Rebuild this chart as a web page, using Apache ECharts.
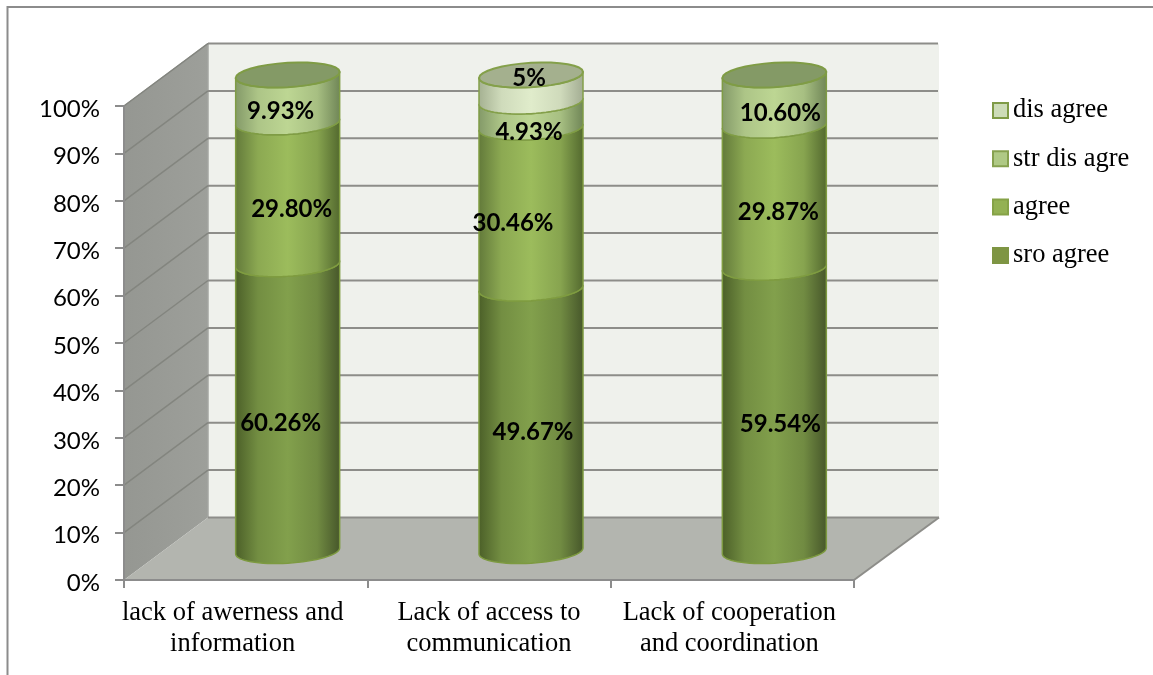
<!DOCTYPE html>
<html><head><meta charset="utf-8">
<style>html,body{margin:0;padding:0;background:#fff}#c{width:1153px;height:675px}</style>
<script src="https://cdn.jsdelivr.net/npm/echarts@6/dist/echarts.min.js"></script>
</head><body><div id="c"></div>
<script>
const categories = ['lack of awerness and\ninformation', 'Lack of access to\ncommunication', 'Lack of cooperation\nand coordination'];
const seriesNames = ['sro agree', 'agree', 'str dis agre', 'dis agree'];
const sroAgree = [60.26, 49.67, 59.54];
const agree = [29.80, 30.46, 29.87];
const strDisAgre = [9.93, 4.93, 10.60];
const disAgree = [0, 5, 0];
const seriesValues = [sroAgree, agree, strDisAgre, disAgree];
const valueLabels = [
  ['60.26%', '49.67%', '59.54%'],
  ['29.80%', '30.46%', '29.87%'],
  ['9.93%', '4.93%', '10.60%'],
  ['', '5%', '']
];
const yTicks = [0, 10, 20, 30, 40, 50, 60, 70, 80, 90, 100];

// Presentation
const DEPTH_X = 84, DEPTH_Y = -62.5;
const RX = 52, RY = 12.2, TILT = -0.058;
const shades = [
  {l:'#4b5f28', m:'#82a04c', r:'#46562a', edge:'#7d9a40', legend:'#7e9543', legendEdge:'#7e9543'},
  {l:'#62793a', m:'#9cbc5c', r:'#52682e', edge:'#7f9c40', legend:'#93b153', legendEdge:'#85a247'},
  {l:'#839968', m:'#bdd693', r:'#6f8556', edge:'#7f9c45', legend:'#afc985', legendEdge:'#86a14f'},
  {l:'#a4b091', m:'#e0eccb', r:'#a2ac92', edge:'#84a04a', legend:'#cddcb8', legendEdge:'#7f9b47'}
];
const capColors = {2:'#849a66', 3:'#a4b08e'};
// label shifts [dx, dy] relative to the middle of each cylinder segment
const labelShift = [
  [[-7, 16], [2, 13], [6, 15]],
  [[4, 16], [-18, 15], [4, 16]],
  [[-7, 13], [-2, 18], [6, 13]],
  [[0, 0], [-2, -10], [0, 0]]
];
const categoryLabelPadding = [[0, 26, 0, 0], [0, 0, 0, 0], [0, 6, 0, 0]];

const totals = categories.map((_, c) => seriesValues.reduce((s, v) => s + v[c], 0));
const lowerShare = (si, c) => { let s = 0; for (let i = 0; i < si; i++) s += seriesValues[i][c]; return s / totals[c] * 100; };

function arc(cx, cy, from, to) {
  const pts = [];
  for (let i = 0; i <= 32; i++) {
    const t = from + (to - from) * i / 32;
    const dx = RX * Math.cos(t);
    pts.push([cx + dx, cy + RY * Math.sin(t) + TILT * dx]);
  }
  return pts;
}
const cylCoord = (api, c, share) => {
  const p = api.coord([c, share]);
  return [p[0] + DEPTH_X / 2, p[1] - 29 - 2 * share / 100];
};

function renderSegment(si) {
  return function (params, api) {
    const c = api.value(0), a = api.value(1), b = api.value(2), label = valueLabels[si][c];
    if (b <= a) return {type: 'group', children: []};
    const p0 = cylCoord(api, c, a), p1 = cylCoord(api, c, b);
    const front0 = arc(p0[0], p0[1], Math.PI, 0);
    const front1 = arc(p1[0], p1[1], 0, Math.PI);
    const s = shades[si];
    const lerp = echarts.color.lerp;
    const grad = {type: 'linear', x: 0, y: 0, x2: 1, y2: 0, colorStops: [
      {offset: 0, color: s.l},
      {offset: 0.22, color: lerp(0.72, [s.l, s.m])},
      {offset: 0.5, color: s.m},
      {offset: 0.78, color: lerp(0.72, [s.r, s.m])},
      {offset: 1, color: s.r}]};
    const kids = [{type: 'polygon', shape: {points: front0.concat(front1)},
      style: {fill: grad, stroke: s.edge, lineWidth: 1.5, lineJoin: 'round'}}];
    if (b >= 99.99) {
      kids.push({type: 'polygon', shape: {points: arc(p1[0], p1[1], 0, Math.PI * 2)},
        style: {fill: capColors[si], stroke: s.edge, lineWidth: 2, lineJoin: 'round'}, z2: 2});
    }
    const shift = labelShift[si][c];
    kids.push({type: 'text', z2: 100, x: (p0[0] + p1[0]) / 2 + shift[0], y: (p0[1] + p1[1]) / 2 + shift[1],
      style: {text: label, fill: '#000', font: 'bold 24px Lato', align: 'center', verticalAlign: 'middle'}});
    return {type: 'group', children: kids};
  };
}

function renderWalls(params, api) {
  const v = api.value(0), sys = params.coordSys;
  const L = sys.x, R = sys.x + sys.width;
  const y = api.coord([0, v])[1];
  const kids = [];
  const gridC = '#8d8d89';
  if (v === 0) {
    const yTop = api.coord([0, 100])[1];
    const bx = L + DEPTH_X, bxR = R + DEPTH_X + 1, by0 = y + DEPTH_Y, byT = yTop + DEPTH_Y;
    kids.push({type: 'polygon', shape: {points: [[bx, byT], [bxR, byT], [bxR, by0], [bx, by0]]}, style: {fill: '#eff1ec'}});
    kids.push({type: 'polygon', shape: {points: [[L, yTop], [bx, byT], [bx, by0], [L, y]]},
      style: {fill: {type: 'linear', x: 0, y: 0, x2: 1, y2: 0, colorStops: [{offset: 0, color: '#959792'}, {offset: 1, color: '#9d9f9a'}]}}});
    kids.push({type: 'polygon', shape: {points: [[L, y], [bx, by0], [bxR, by0], [R, y]]}, style: {fill: '#b3b5af'}});
    kids.push({type: 'line', shape: {x1: bx, y1: byT, x2: bx, y2: by0}, style: {stroke: '#a4a6a2', lineWidth: 1.5}});
    kids.push({type: 'line', shape: {x1: R, y1: y, x2: bxR, y2: by0}, style: {stroke: gridC, lineWidth: 2}});
    kids.push({type: 'line', shape: {x1: L, y1: yTop, x2: bx, y2: byT}, style: {stroke: '#9a9c98', lineWidth: 1.5}});
    kids.push({type: 'line', shape: {x1: bx, y1: by0, x2: bxR, y2: by0}, style: {stroke: gridC, lineWidth: 2}});
  } else {
    kids.push({type: 'line', shape: {x1: L + DEPTH_X, y1: y + DEPTH_Y, x2: R + DEPTH_X, y2: y + DEPTH_Y},
      style: {stroke: gridC, lineWidth: 2}, z2: 1});
    kids.push({type: 'line', shape: {x1: L, y1: y, x2: L + DEPTH_X, y2: y + DEPTH_Y},
      style: {stroke: '#83857f', lineWidth: 1.5}, z2: 1});
  }
  return {type: 'group', children: kids};
}

const chart = echarts.init(document.getElementById('c'), null, {renderer: 'canvas'});
const axisLine = {show: true, onZero: false, lineStyle: {color: '#8c8c8c', width: 2}};

const series = [{
  type: 'custom', name: 'walls', coordinateSystem: 'cartesian2d', silent: true, z: 1,
  renderItem: renderWalls, data: yTicks.map(v => [v]), encode: {y: 0}, animation: false, clip: false
}];
seriesNames.forEach((name, si) => {
  series.push({
    type: 'custom', name, coordinateSystem: 'cartesian2d', z: 6 + si, animation: false, clip: false,
    itemStyle: {color: shades[si].legend, borderColor: shades[si].legendEdge, borderWidth: 2},
    renderItem: renderSegment(si),
    encode: {x: 0, y: 2},
    data: categories.map((_, c) => [c, lowerShare(si, c), lowerShare(si + 1, c)])
  });
});

chart.setOption({
  animation: false,
  backgroundColor: '#fff',
  grid: {left: 124, right: 299, top: 106, bottom: 95, containLabel: false},
  legend: {
    orient: 'vertical', left: 987, top: 92, itemWidth: 15, itemHeight: 15, itemGap: 21.3, icon: 'rect',
    data: seriesNames.slice().reverse(),
    selectedMode: false,
    textStyle: {fontFamily: 'Liberation Serif', fontSize: 26.5, color: '#000'}
  },
  xAxis: {
    type: 'category', z: 4, boundaryGap: true,
    data: categories.map((value, i) => ({value, textStyle: {padding: categoryLabelPadding[i]}})),
    axisLine, axisTick: {show: true, length: 8, lineStyle: {color: '#8c8c8c', width: 2}},
    axisLabel: {interval: 0, margin: 18, fontFamily: 'Liberation Serif', fontSize: 26.5, lineHeight: 31, color: '#000', align: 'center'}
  },
  yAxis: {
    type: 'value', min: 0, max: 100, interval: 10, z: 4,
    axisLine, axisTick: {show: true, length: 9, lineStyle: {color: '#8c8c8c', width: 2}},
    splitLine: {show: false},
    axisLabel: {
      formatter: v => '{t|' + v + '%}', margin: 24,
      rich: {t: {padding: [6, 0, 0, 0], fontFamily: 'Lato', fontSize: 24, color: '#000'}}
    }
  },
  graphic: [
    {type: 'line', z: 0, shape: {x1: 7.5, y1: 7, x2: 1153, y2: 7}, style: {stroke: '#8c8c8c', lineWidth: 2}},
    {type: 'line', z: 0, shape: {x1: 7.5, y1: 6, x2: 7.5, y2: 675}, style: {stroke: '#8c8c8c', lineWidth: 2}}
  ],
  series
});
</script></body></html>
